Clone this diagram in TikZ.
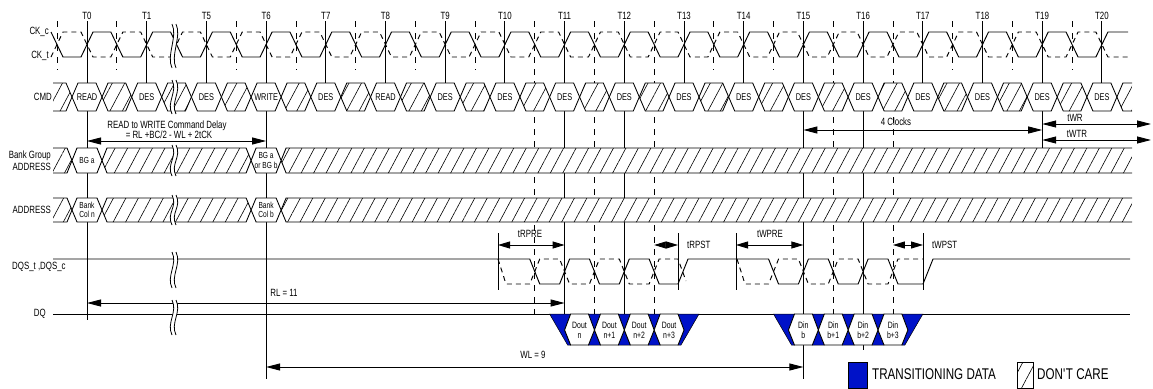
\documentclass[tikz,border=0pt]{standalone}
\usepackage{fontspec}
\setmainfont{Liberation Sans}[FakeStretch=0.75]
\usetikzlibrary{arrows.meta,patterns.meta}
\definecolor{tblue}{RGB}{0,18,200}
\pgfmathdeclarefunction{tx}{1}{\pgfmathparse{87+59.7*#1}}
\tikzset{
  wave/.style={line width=0.95pt},
  cdash/.style={line width=0.95pt, dash pattern=on 5pt off 4pt},
  tline/.style={line width=0.85pt},
  hline/.style={line width=0.85pt, dash pattern=on 6pt off 6pt},
  hatchbox/.style={draw, line width=0.85pt, preaction={fill=white}, pattern={Lines[angle=62,distance=11pt,line width=0.6pt]}},
  hexbox/.style={draw, line width=0.85pt, fill=white},
  bluebox/.style={draw, line width=0.5pt, fill=tblue},
  brk/.style={line width=0.8pt},
  tlab/.style={inner sep=0pt, font=\fontsize{10.5}{12}\selectfont},
  lbl/.style={inner sep=0pt, font=\fontsize{10.5}{12}\selectfont},
  ctxt/.style={inner sep=0pt, font=\fontsize{9.8}{11}\selectfont},
  btxt/.style={inner sep=0pt, align=center, font=\fontsize{8.8}{9.2}\selectfont},
  dtxt/.style={inner sep=0pt, align=center, font=\fontsize{9.2}{10}\selectfont},
  legtxt/.style={inner sep=0pt, font=\fontsize{15.5}{17}\selectfont},
  barr/.style={line width=0.9pt, {Triangle[length=14pt,width=7pt]}-{Triangle[length=14pt,width=7pt]}},
  sarr/.style={line width=0.9pt, {Triangle[length=12pt,width=7pt]}-{Triangle[length=12pt,width=7pt]}},
}
\newcommand{\dqburst}[6]{%
  \pgfmathsetmacro{\ba}{#1}%
  \pgfmathsetmacro{\bb}{#1+29.85}%
  \pgfmathsetmacro{\bc}{#1+59.7}%
  \pgfmathsetmacro{\bd}{#1+89.55}%
  \pgfmathsetmacro{\be}{#1+119.4}%
  \filldraw[bluebox] (\ba-15,314) -- (\ba+6,314) -- (\ba,330) -- (\ba+6,345) -- (\ba+3,345) -- cycle;
  \filldraw[bluebox] (\be+15,314) -- (\be-6,314) -- (\be,330) -- (\be-6,345) -- (\be-3,345) -- cycle;
  \foreach \b in {\bb,\bc,\bd}{
    \filldraw[bluebox] (\b-6,314) -- (\b+6,314) -- (\b,330) -- cycle;
    \filldraw[bluebox] (\b-6,345) -- (\b+6,345) -- (\b,330) -- cycle;
  }
  \draw[hexbox] (\ba,330) -- (\ba+6,314) -- (\bb-6,314) -- (\bb,330) -- (\bb-6,345) -- (\ba+6,345) -- cycle;
  \draw[hexbox] (\bb,330) -- (\bb+6,314) -- (\bc-6,314) -- (\bc,330) -- (\bc-6,345) -- (\bb+6,345) -- cycle;
  \draw[hexbox] (\bc,330) -- (\bc+6,314) -- (\bd-6,314) -- (\bd,330) -- (\bd-6,345) -- (\bc+6,345) -- cycle;
  \draw[hexbox] (\bd,330) -- (\bd+6,314) -- (\be-6,314) -- (\be,330) -- (\be-6,345) -- (\bd+6,345) -- cycle;
  \node[dtxt] (#6a) at ({(\ba+\bb)/2},330) {#2};
  \node[dtxt] (#6b) at ({(\bb+\bc)/2},330) {#3};
  \node[dtxt] (#6c) at ({(\bc+\bd)/2},330) {#4};
  \node[dtxt] (#6d) at ({(\bd+\be)/2},330) {#5};
}
\newcommand{\busrow}[6]{% top, bottom, text0, text3, name, label
  \pgfmathsetmacro{\ym}{(#1+#2)/2}%
  \draw[hatchbox] (53,#1) -- ({tx(0)-20},#1) -- ({tx(0)-15},\ym) -- ({tx(0)-20},#2) -- (53,#2);
  \draw[hatchbox] ({tx(0)+15},\ym) -- ({tx(0)+20},#1) -- ({tx(3)-20},#1) -- ({tx(3)-15},\ym) -- ({tx(3)-20},#2) -- ({tx(0)+20},#2) -- cycle;
  \draw[hatchbox] (1132,#1) -- ({tx(3)+20},#1) -- ({tx(3)+15},\ym) -- ({tx(3)+20},#2) -- (1132,#2);
  \draw[hexbox] ({tx(0)-15},\ym) -- ({tx(0)-10},#1) -- ({tx(0)+10},#1) -- ({tx(0)+15},\ym) -- ({tx(0)+10},#2) -- ({tx(0)-10},#2) -- cycle;
  \draw[hexbox] ({tx(3)-15},\ym) -- ({tx(3)-10},#1) -- ({tx(3)+10},#1) -- ({tx(3)+15},\ym) -- ({tx(3)+10},#2) -- ({tx(3)-10},#2) -- cycle;
  \node[btxt] (#5a) at ({tx(0)},\ym) {#3};
  \node[btxt] (#5b) at ({tx(3)},\ym) {#4};
  \node[lbl, anchor=east, align=right] (#5l) at (51,\ym) {#6};
}
\begin{document}
\begin{tikzpicture}[x=1pt,y=-1pt]
\useasboundingbox (0,0) rectangle (1153,388);

% clock edge lines
\foreach \i/\t/\b in {0/T0/320,1/T1/83,2/T5/83,3/T6/379,4/T7/83,5/T8/83,6/T9/83,7/T10/83,8/T11/314,9/T12/314,10/T13/83,11/T14/83,12/T15/379,13/T16/350,14/T17/83,15/T18/83,16/T19/148,17/T20/83}{
  \node[tlab] (t\i) at ({tx(\i)},16) {\t};
  \coordinate (tb\i) at ({tx(\i)},\b);
  \draw[tline, shorten <=1.5pt] (t\i.south) -- (tb\i);
}
% half clock dashed lines
\foreach \j/\b [count=\k] in {-0.5/70,0.5/70,2.5/70,3.5/70,4.5/70,5.5/70,6.5/70,7.5/314,8.5/314,9.5/314,10.5/70,11.5/70,12.5/314,13.5/314,14.5/70,15.5/70,16.5/70}{
  \coordinate (hu\k) at ({tx(\j)},21);
  \coordinate (hd\k) at ({tx(\j)},\b);
  \draw[hline] (hu\k) -- (hd\k);
}

% clocks
\draw[wave] (51,32) -- (63,57) \foreach \i in {0,...,16}{ -- ({tx(\i)-6},57) -- ({tx(\i)+6},32) -- ({tx(\i+0.5)-6},32) -- ({tx(\i+0.5)+6},57) } -- ({tx(17)-6},57) -- ({tx(17)+6},32) -- (1128,32);
\draw[cdash] (51,57) -- (63,32) \foreach \i in {0,...,16}{ -- ({tx(\i)-6},32) -- ({tx(\i)+6},57) -- ({tx(\i+0.5)-6},57) -- ({tx(\i+0.5)+6},32) } -- ({tx(17)-6},32) -- ({tx(17)+6},57) -- (1128,57);

% CMD row
\draw[hatchbox] (53,83) -- ({tx(0)-21},83) -- ({tx(0)-15},97) -- ({tx(0)-21},111) -- (53,111);
\foreach \i in {0,...,16}{
  \draw[hatchbox] ({tx(\i)+15},97) -- ({tx(\i)+21},83) -- ({tx(\i+1)-21},83) -- ({tx(\i+1)-15},97) -- ({tx(\i+1)-21},111) -- ({tx(\i)+21},111) -- cycle;
}
\draw[hatchbox] (1132,83) -- ({tx(17)+21},83) -- ({tx(17)+15},97) -- ({tx(17)+21},111) -- (1132,111);
\foreach \i/\c in {0/READ,1/DES,2/DES,3/WRITE,4/DES,5/READ,6/DES,7/DES,8/DES,9/DES,10/DES,11/DES,12/DES,13/DES,14/DES,15/DES,16/DES,17/DES}{
  \draw[hexbox] ({tx(\i)-15},97) -- ({tx(\i)-9},83) -- ({tx(\i)+9},83) -- ({tx(\i)+15},97) -- ({tx(\i)+9},111) -- ({tx(\i)-9},111) -- cycle;
  \node[ctxt] (cmd\i) at ({tx(\i)},97) {\c};
}

% bus rows
\busrow{148}{173}{BG a}{BG a\\or BG b}{bg}{Bank Group\\ADDRESS}
\busrow{198}{222}{Bank\\Col n}{Bank\\Col b}{ad}{ADDRESS}

% DQS
\draw[wave] (53,259) -- ({tx(7.5)-5},259) -- ({tx(7.5)+5},284) -- ({tx(8)-5},284) -- ({tx(8)+5},259) -- ({tx(8.5)-5},259) -- ({tx(8.5)+5},284) -- ({tx(9)-5},284) -- ({tx(9)+5},259) -- ({tx(9.5)-5},259) -- ({tx(9.5)+5},284) -- (678,284) -- (688,259) -- ({tx(11.5)-5},259) -- ({tx(11.5)+5},284) -- ({tx(12)-5},284) -- ({tx(12)+5},259) -- ({tx(12.5)-5},259) -- ({tx(12.5)+5},284) -- ({tx(13)-5},284) -- ({tx(13)+5},259) -- ({tx(13.5)-5},259) -- ({tx(13.5)+5},284) -- (923,284) -- (933,259) -- (1130,259);
\draw[cdash] (498,259) -- (506,284) -- ({tx(7.5)-5},284) -- ({tx(7.5)+5},259) -- ({tx(8)-5},259) -- ({tx(8)+5},284) -- ({tx(8.5)-5},284) -- ({tx(8.5)+5},259) -- ({tx(9)-5},259) -- ({tx(9)+5},284) -- ({tx(9.5)-5},284) -- ({tx(9.5)+5},259) -- (678,259) -- (686,281);
\draw[cdash] (737,259) -- (745,284) -- ({tx(11.5)-5},284) -- ({tx(11.5)+5},259) -- ({tx(12)-5},259) -- ({tx(12)+5},284) -- ({tx(12.5)-5},284) -- ({tx(12.5)+5},259) -- ({tx(13)-5},259) -- ({tx(13)+5},284) -- ({tx(13.5)-5},284) -- ({tx(13.5)+5},259) -- (923,259);

% DQ line
\coordinate (dqA) at (53,314);
\coordinate (dqB) at (1130,314);
\draw[wave] (dqA) -- (dqB);

% timing bounds
\foreach \x [count=\k] in {498,678,736,923}{
  \coordinate (vu\k) at (\x,233);
  \coordinate (vd\k) at (\x,290);
  \draw[tline] (vu\k) -- (vd\k);
}
\coordinate (rpre1) at (498,245); \coordinate (rpre2) at ({tx(8)},245);
\draw[sarr] (rpre1) -- (rpre2);
\node[lbl] (lrpre) at (530,234) {tRPRE};
\coordinate (rpst1) at ({tx(9.5)},245); \coordinate (rpst2) at (678,245);
\draw[sarr] (rpst1) -- (rpst2);
\node[lbl, anchor=west] (lrpst) at (687,245) {tRPST};
\coordinate (wpre1) at (736,245); \coordinate (wpre2) at ({tx(12)},245);
\draw[sarr] (wpre1) -- (wpre2);
\node[lbl] (lwpre) at (770,234) {tWPRE};
\coordinate (wpst1) at ({tx(13.5)},245); \coordinate (wpst2) at (923,245);
\draw[sarr] (wpst1) -- (wpst2);
\node[lbl, anchor=west] (lwpst) at (932,245) {tWPST};

% big arrows
\coordinate (rw1) at ({tx(0)},141); \coordinate (rw2) at ({tx(3)},141);
\draw[barr] (rw1) -- (rw2);
\node[lbl] (lrw1) at (167,126) {READ to WRITE Command Delay};
\node[lbl] (lrw2) at (169,135) {= RL +BC/2 - WL + 2tCK};
\coordinate (rl1) at ({tx(0)},303); \coordinate (rl2) at ({tx(8)},303);
\draw[barr] (rl1) -- (rl2);
\node[lbl] (lrl) at (284,293) {RL = 11};
\coordinate (wl1) at ({tx(3)},367); \coordinate (wl2) at ({tx(12)},367);
\draw[barr] (wl1) -- (wl2);
\node[lbl] (lwl) at (533,355) {WL = 9};
\coordinate (fc1) at ({tx(12)},130); \coordinate (fc2) at ({tx(16)},130);
\draw[barr] (fc1) -- (fc2);
\node[lbl] (lfc) at (896,122) {4 Clocks};
\coordinate (wr1) at ({tx(16)},124); \coordinate (wr2) at (1151,124);
\draw[barr] (wr1) -- (wr2);
\node[lbl] (lwr) at (1075,117.5) {tWR};
\coordinate (wtr1) at ({tx(16)},140); \coordinate (wtr2) at (1151,140);
\draw[barr] (wtr1) -- (wtr2);
\node[lbl] (lwtr) at (1077,134) {tWTR};

% data bursts
\dqburst{tx(8)}{Dout\\n}{Dout\\n+1}{Dout\\n+2}{Dout\\n+3}{dout}
\dqburst{tx(11.75)}{Din\\b}{Din\\b+1}{Din\\b+2}{Din\\b+3}{din}

% break marks
\foreach \ya/\yb in {24/68,80/114,145/176,195/225,252/288,300/335}{
  \fill[white] (172,\ya) .. controls (178,\ya+12) and (166,\yb-12) .. (172,\yb) -- (176,\yb) .. controls (170,\yb-12) and (182,\ya+12) .. (176,\ya) -- cycle;
  \draw[brk] (172,\ya) .. controls (178,\ya+12) and (166,\yb-12) .. (172,\yb);
  \draw[brk] (176,\ya) .. controls (182,\ya+12) and (170,\yb-12) .. (176,\yb);
}

% signal labels
\node[lbl, anchor=east] (lckc) at (49,32) {CK\_c};
\node[lbl, anchor=east] (lckt) at (49,56) {CK\_t};
\node[lbl, anchor=east] (lcmd) at (52,97) {CMD};
\node[lbl, anchor=west] (ldqs) at (12,267) {DQS\_t ,DQS\_c};
\node[lbl, anchor=east] (ldq) at (46,314) {DQ};

% legend
\filldraw[bluebox] (848,362) rectangle (867,388);
\node[legtxt, anchor=west] (lg1) at (872,374) {TRANSITIONING DATA};
\draw[hatchbox] (1017,362) rectangle (1033,388);
\node[legtxt, anchor=west] (lg2) at (1037,374) {DON\textquotesingle T CARE};
\end{tikzpicture}
\end{document}
